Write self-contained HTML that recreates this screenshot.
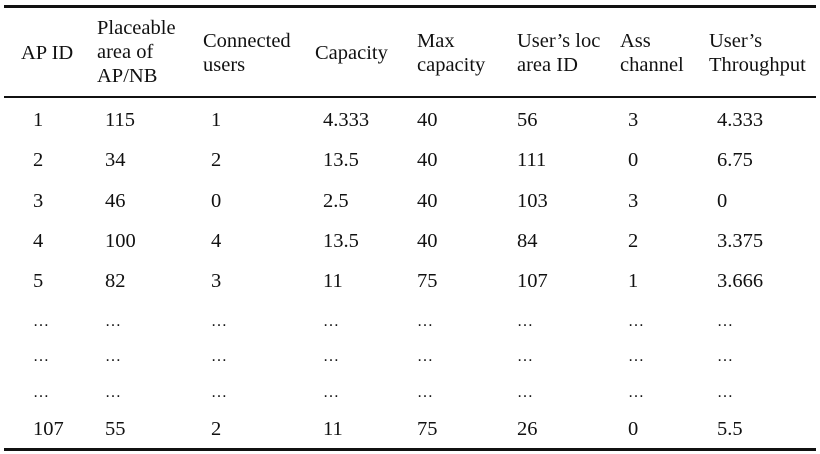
<!DOCTYPE html>
<html><head><style>
body{margin:0;width:820px;height:454px;background:#fff;position:relative;font-family:"Liberation Serif",serif;font-size:20.5px;color:#111;overflow:hidden}
.l{position:absolute;left:4px;width:812px;background:#111}
.t{position:absolute;line-height:22px;white-space:nowrap}
.h{line-height:24px}
.d{font-size:16px}
</style></head><body>
<div class="l" style="top:5px;height:3px"></div>
<div class="l" style="top:96px;height:2px"></div>
<div class="l" style="top:448px;height:3px"></div>
<div class="t h" style="left:21px;top:41px">AP ID</div>
<div class="t h" style="left:97px;top:16px">Placeable<br>area of<br>AP/NB</div>
<div class="t h" style="left:203px;top:29px">Connected<br>users</div>
<div class="t h" style="left:315px;top:41px">Capacity</div>
<div class="t h" style="left:417px;top:29px">Max<br>capacity</div>
<div class="t h" style="left:517px;top:29px">User’s loc<br>area ID</div>
<div class="t h" style="left:620px;top:29px">Ass<br>channel</div>
<div class="t h" style="left:709px;top:29px">User’s<br>Throughput</div>
<div id="rows"></div>
<script>
var xs=[33,105,211,323,417,517,628,717];
var rows=[[120,["1","115","1","4.333","40","56","3","4.333"]],[160,["2","34","2","13.5","40","111","0","6.75"]],[201,["3","46","0","2.5","40","103","3","0"]],[241,["4","100","4","13.5","40","84","2","3.375"]],[281,["5","82","3","11","75","107","1","3.666"]],[322,Array(8).fill("…")],[357,Array(8).fill("…")],[393,Array(8).fill("…")],[429,["107","55","2","11","75","26","0","5.5"]]];
var h="";rows.forEach(function(r){r[1].forEach(function(v,i){h+='<div class="t'+(v=="…"?" d":"")+'" style="left:'+xs[i]+'px;top:'+(r[0]-11)+'px">'+v+'</div>';});});
document.getElementById("rows").innerHTML=h;
</script>
</body></html>
